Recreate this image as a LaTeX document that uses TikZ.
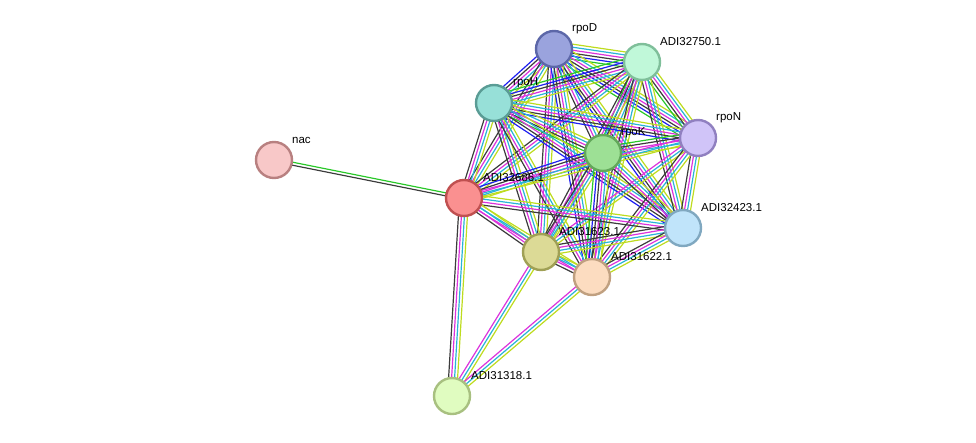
\documentclass[tikz,border=0pt]{standalone}
\usepackage{fontspec}
\setmainfont{Liberation Sans}
\usetikzlibrary{calc}
\pgfdeclarelayer{bg}
\pgfsetlayers{bg,main}
\definecolor{eG}{RGB}{40,200,40}
\definecolor{eB}{RGB}{30,30,240}
\definecolor{eK}{RGB}{60,60,60}
\definecolor{eM}{RGB}{220,50,220}
\definecolor{eC}{RGB}{40,180,215}
\definecolor{eY}{RGB}{190,220,30}
\tikzset{
  prot/.style={circle, minimum size=36pt, inner sep=0pt, line width=2.4pt},
  plabel/.style={anchor=west, inner sep=0pt, font=\fontsize{11.5}{13}\selectfont, text=black},
  eline/.style={line width=1.2pt},
}
\newcommand\medge[3]{%
  \foreach \cc [count=\ii] in {#3} {\xdef\nedge{\ii}}%
  \foreach \cc [count=\ii] in {#3} {%
    \pgfmathsetmacro\off{(\ii-(\nedge+1)/2)*3.0}%
    \draw[eline, color=\cc] ($(#1)!\off pt!90:(#2)$) -- ($(#2)!\off pt!-90:(#1)$);
  }%
}
\begin{document}
\begin{tikzpicture}[x=1pt,y=-1pt]
\useasboundingbox (0,0) rectangle (976,442);
\node[prot, fill={rgb,255:red,154;green,163;blue,221}, draw={rgb,255:red,92;green,103;blue,168}] (rpoD) at (554,49) {};
\node[prot, fill={rgb,255:red,192;green,248;blue,217}, draw={rgb,255:red,127;green,191;blue,154}] (a32750) at (642,62) {};
\node[prot, fill={rgb,255:red,151;green,224;blue,216}, draw={rgb,255:red,90;green,156;blue,149}] (rpoH) at (494,103) {};
\node[prot, fill={rgb,255:red,157;green,224;blue,149}, draw={rgb,255:red,98;green,168;blue,90}] (rpoK) at (603,153) {};
\node[prot, fill={rgb,255:red,208;green,196;blue,248}, draw={rgb,255:red,144;green,128;blue,192}] (rpoN) at (698,138) {};
\node[prot, fill={rgb,255:red,248;green,200;blue,200}, draw={rgb,255:red,184;green,128;blue,128}] (nac) at (274,160) {};
\node[prot, fill={rgb,255:red,250;green,144;blue,144}, draw={rgb,255:red,192;green,80;blue,80}] (a32686) at (464,198) {};
\node[prot, fill={rgb,255:red,192;green,228;blue,250}, draw={rgb,255:red,128;green,168;blue,192}] (a32423) at (683,228) {};
\node[prot, fill={rgb,255:red,220;green,218;blue,150}, draw={rgb,255:red,160;green,160;blue,85}] (a31623) at (541,252) {};
\node[prot, fill={rgb,255:red,252;green,220;blue,192}, draw={rgb,255:red,192;green,160;blue,128}] (a31622) at (592,277) {};
\node[prot, fill={rgb,255:red,224;green,252;blue,192}, draw={rgb,255:red,168;green,192;blue,128}] (a31318) at (452,396) {};
\begin{pgfonlayer}{bg}
\medge{rpoD}{a32750}{eG,eB,eK,eM,eC,eY}
\medge{rpoD}{rpoH}{eB,eK,eM,eC,eY}
\medge{rpoD}{rpoN}{eG,eB,eK,eM,eC,eY}
\medge{rpoD}{rpoK}{eK,eM,eC,eY}
\medge{rpoD}{a32686}{eK,eM,eC,eY}
\medge{rpoD}{a32423}{eB,eK,eM,eC,eY}
\medge{rpoD}{a31623}{eK,eM,eC,eY}
\medge{rpoD}{a31622}{eB,eK,eM,eC,eY}
\medge{a32750}{rpoH}{eG,eB,eK,eM,eC,eY}
\medge{a32750}{rpoN}{eG,eK,eM,eC,eY}
\medge{a32750}{rpoK}{eG,eK,eM,eC,eY}
\medge{a32750}{a32686}{eK,eM,eC,eY}
\medge{a32750}{a32423}{eK,eM,eC,eY}
\medge{a32750}{a31623}{eK,eM,eC,eY}
\medge{a32750}{a31622}{eK,eM,eC,eY}
\medge{rpoH}{rpoN}{eB,eK,eM,eC,eY}
\medge{rpoH}{rpoK}{eG,eK,eM,eC,eY}
\medge{rpoH}{a32686}{eK,eM,eC,eY}
\medge{rpoH}{a32423}{eB,eK,eM,eC,eY}
\medge{rpoH}{a31623}{eK,eM,eC,eY}
\medge{rpoH}{a31622}{eK,eM,eC,eY}
\medge{rpoN}{rpoK}{eG,eK,eM,eC,eY}
\medge{rpoN}{a32686}{eM,eC,eY}
\medge{rpoN}{a32423}{eK,eM,eC,eY}
\medge{rpoN}{a31623}{eM,eC,eY}
\medge{rpoN}{a31622}{eK,eM,eC,eY}
\medge{rpoK}{a32686}{eB,eK,eM,eC,eY}
\medge{rpoK}{a32423}{eK,eM,eC,eY}
\medge{rpoK}{a31623}{eK,eM,eC,eY}
\medge{rpoK}{a31622}{eG,eB,eK,eM,eC,eY}
\medge{a32686}{a32423}{eK,eM,eC,eY}
\medge{a32686}{a31623}{eK,eM,eC,eY}
\medge{a32686}{a31622}{eM,eC,eY}
\medge{a32686}{nac}{eG,eK}
\medge{a32686}{a31318}{eK,eM,eC,eY}
\medge{a32423}{a31623}{eK,eM,eC,eY}
\medge{a32423}{a31622}{eK,eM,eC,eY}
\medge{a31623}{a31622}{eK,eM,eC,eY}
\medge{a31623}{a31318}{eM,eC,eY}
\medge{a31622}{a31318}{eM,eC,eY}
\end{pgfonlayer}
\node[plabel] (l_rpoD) at ($(rpoD)+(18,-20)$) {rpoD};
\node[plabel] (l_a32750) at ($(a32750)+(18,-20)$) {ADI32750.1};
\node[plabel] (l_rpoH) at ($(rpoH)+(19,-20)$) {rpoH};
\node[plabel] (l_rpoK) at ($(rpoK)+(18,-20)$) {rpoK};
\node[plabel] (l_rpoN) at ($(rpoN)+(18,-20)$) {rpoN};
\node[plabel] (l_nac) at ($(nac)+(18,-20)$) {nac};
\node[plabel] (l_a32686) at ($(a32686)+(19,-20)$) {ADI32686.1};
\node[plabel] (l_a32423) at ($(a32423)+(18,-20)$) {ADI32423.1};
\node[plabel] (l_a31623) at ($(a31623)+(18,-20)$) {ADI31623.1};
\node[plabel] (l_a31622) at ($(a31622)+(19,-20)$) {ADI31622.1};
\node[plabel] (l_a31318) at ($(a31318)+(19,-20)$) {ADI31318.1};
\end{tikzpicture}
\end{document}
